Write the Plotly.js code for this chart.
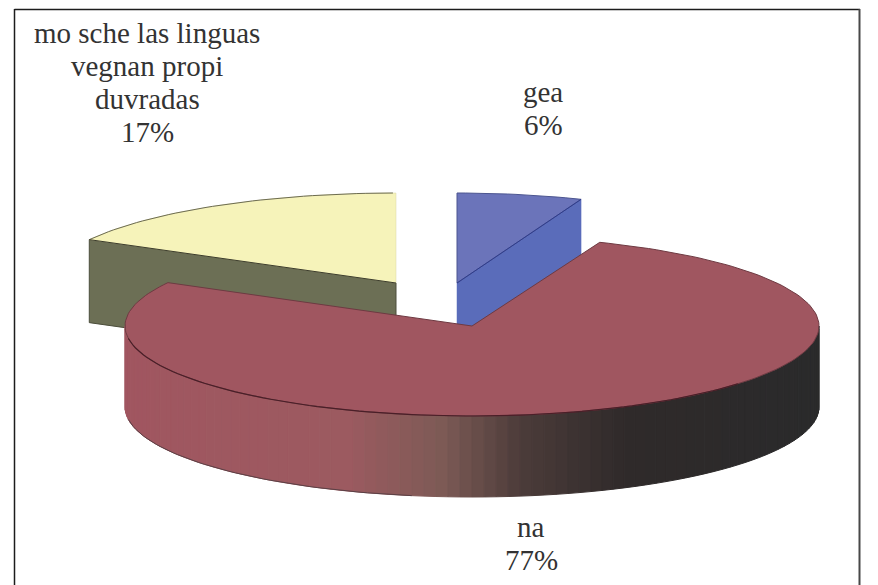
<!DOCTYPE html>
<html><head><meta charset="utf-8">
<script src="https://cdn.plot.ly/plotly-3.0.1.min.js"></script>
<style>html,body{margin:0;padding:0;background:#fff}</style></head>
<body><div id="chart" style="width:878px;height:585px"></div>
<script>
const categories = ["gea", "na", "mo sche las linguas<br>vegnan propi<br>duvradas"];
const percents = [6, 77, 17];

const radiiX = [337, 347, 350], ry = 90;
const depths = [81, 81, 83];
const centres = [[457, 283], [472, 326], [396, 283]];
const labelAt = [[543, 92], [531, 527], [147, 33]];
const lineGap = 33;
const topCol = ["#6b74ba", "#a05660", "#f6f3ba"];
const cutCol = ["#5a6cba", "#a05660", "#6c6f55"];
const wallStops = [[0, "#a05660"], [0.32, "#9c5a60"], [0.46, "#7c5a55"], [0.57, "#4c3c3a"], [0.72, "#2f2a2a"], [1, "#2a2a2b"]];

const pt = (i, a, dz) => {
  const r = a * Math.PI / 180, c = centres[i];
  return [c[0] + radiiX[i] * Math.sin(r), c[1] - ry * Math.cos(r) + (dz || 0)];
};
const arc = (i, a0, a1, dz) => {
  const n = Math.max(2, Math.ceil(Math.abs(a1 - a0) / 1.5)), out = [];
  for (let k = 0; k <= n; k++) out.push(pt(i, a0 + (a1 - a0) * k / n, dz));
  return out;
};
const poly = (p, fill, line, w) => ({
  type: "scatter", mode: "lines", x: p.map(q => q[0]), y: p.map(q => q[1]),
  fill: "toself", fillcolor: fill, line: {color: line || fill, width: w === undefined ? 1 : w},
  hoverinfo: "skip", showlegend: false
});
const path = (p, col, w) => ({
  type: "scatter", mode: "lines", x: p.map(q => q[0]), y: p.map(q => q[1]),
  line: {color: col, width: w}, hoverinfo: "skip", showlegend: false
});
const mix = (t) => {
  let i = 0;
  while (i < wallStops.length - 2 && t > wallStops[i + 1][0]) i++;
  const [t0, c0] = wallStops[i], [t1, c1] = wallStops[i + 1];
  const h = s => [1, 3, 5].map(k => parseInt(s.substr(k, 2), 16));
  const A = h(c0), B = h(c1), f = Math.min(1, (t - t0) / (t1 - t0));
  return "rgb(" + A.map((v, j) => Math.round(v + (B[j] - v) * f)).join(",") + ")";
};

const total = percents.reduce((a, b) => a + b, 0);
const spans = [];
let acc = 0;
percents.forEach(v => { spans.push([acc * 360 / total, (acc + v) * 360 / total]); acc += v; });

const traces = [];
// yellow slice (index 2)
{
  const c = centres[2], [a0, a1] = spans[2], d = depths[2];
  traces.push(poly([c, pt(2, a0), pt(2, a0, d), [c[0], c[1] + d], c], cutCol[2], "#4c4e3c", 1));
  traces.push(poly([c].concat(arc(2, a0, a1)).concat([c]), topCol[2], "#d8d6a6", 0.5));
  traces.push(path(arc(2, a0, a1 - 0.5), "#6d6c50", 1));
  traces.push(path([pt(2, a0), c], "#3c3c2c", 1));
}
// blue slice (index 0)
{
  const c = centres[0], [a0, a1] = spans[0], d = depths[0];
  traces.push(poly([c, pt(0, a1), pt(0, a1, d), [c[0], c[1] + d], c], cutCol[0], "#5a6cba", 0.5));
  traces.push(poly([c].concat(arc(0, a0, a1)).concat([c]), topCol[0], "#4c5590", 1));
  traces.push(path([c, pt(0, a1)], "#2f3c8c", 1));
}
// red slice (index 1): side wall bands, then top
{
  const c = centres[1], [a0, a1] = spans[1], d = depths[1], rx = radiiX[1];
  const steps = 90;
  for (let k = 0; k < steps; k++) {
    const b0 = 270 - 180 * k / steps, b1 = 270 - 180 * (k + 1) / steps;
    const xm = c[0] + rx * Math.sin((b0 + b1) / 2 * Math.PI / 180);
    const col = mix((xm - (c[0] - rx)) / (2 * rx));
    const q = arc(1, b0, b1).concat(arc(1, b1, b0, d));
    q.push(q[0]);
    traces.push(poly(q, col, col, 1));
  }
  traces.push(path(arc(1, 262, 190, d), "#5a4045", 1));
  traces.push(poly([c].concat(arc(1, a0, a1)).concat([c]), topCol[1], "#6e3a42", 1));
  traces.push(path(arc(1, 262, 130), "#4a1f28", 1.2));
}

const annotations = [];
categories.forEach((name, i) => {
  name.split("<br>").concat([percents[i] + "%"]).forEach((line, k) => {
    annotations.push({
      x: labelAt[i][0], y: labelAt[i][1] + k * lineGap, xref: "x", yref: "y",
      xanchor: "center", yanchor: "middle", text: line, showarrow: false, align: "center",
      font: {family: "Liberation Serif, serif", size: 29, color: "#333333"}
    });
  });
});

const frame = (x0, y0, x1, y1, color, width) => ({type: "line", xref: "x", yref: "y", x0, y0, x1, y1, line: {color, width}});
const layout = {
  width: 878, height: 585, margin: {l: 0, r: 0, t: 0, b: 0},
  paper_bgcolor: "#fff", plot_bgcolor: "#fff", showlegend: false,
  xaxis: {range: [0, 878], visible: false, fixedrange: true},
  yaxis: {range: [585, 0], visible: false, fixedrange: true},
  annotations,
  shapes: [
    frame(14.5, 9.5, 860, 9.5, "#1c1c1c", 1.5),
    frame(14.5, 9, 14.5, 585, "#1c1c1c", 1.5),
    frame(859.5, 9, 859.5, 585, "#484848", 2)
  ]
};
Plotly.newPlot("chart", traces, layout, {displayModeBar: false, staticPlot: true});
</script></body></html>
